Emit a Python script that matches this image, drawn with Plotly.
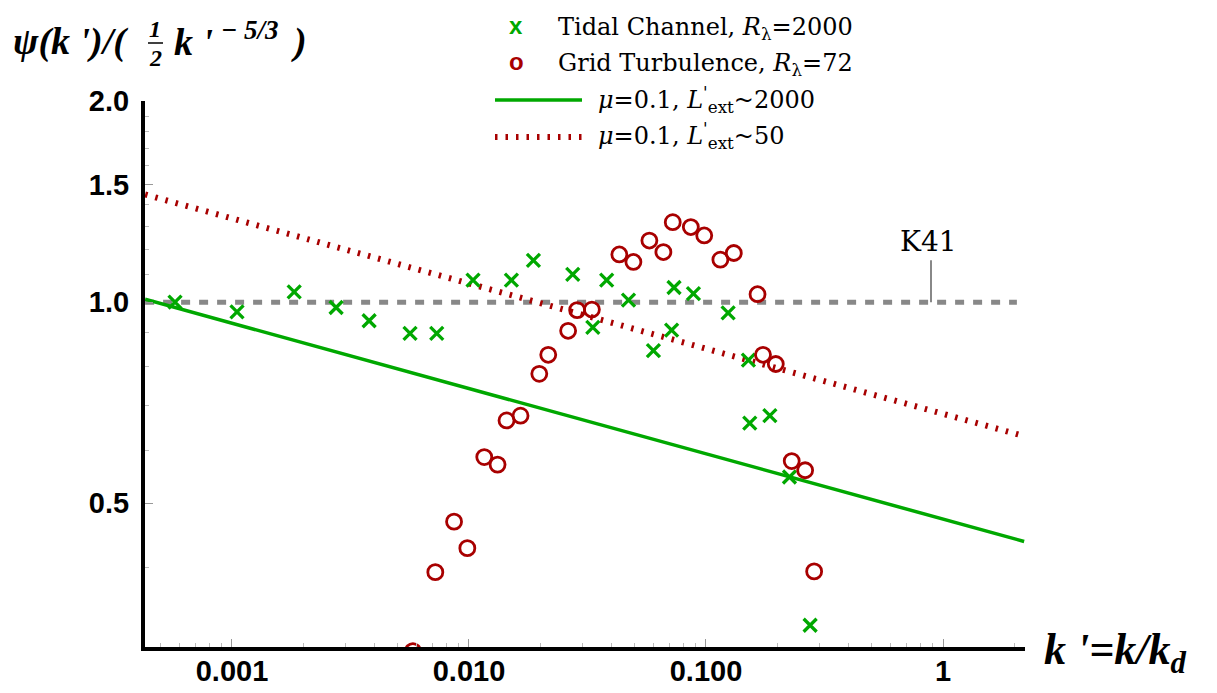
import plotly.graph_objects as go

# ---------------- data ----------------
tidal_k = [0.000575, 0.00105, 0.00183, 0.00275, 0.00379, 0.00564, 0.00731, 0.0104,
           0.0151, 0.0187, 0.0274, 0.0333, 0.0381, 0.0471, 0.0600, 0.0716, 0.0733,
           0.0885, 0.124, 0.151, 0.153, 0.186, 0.225, 0.275]
tidal_psi = [1.00, 0.967, 1.036, 0.982, 0.938, 0.898, 0.898, 1.079,
             1.079, 1.155, 1.101, 0.917, 1.079, 1.007, 0.846, 0.908, 1.052,
             1.030, 0.964, 0.819, 0.659, 0.676, 0.547, 0.328]

grid_k = [0.0058, 0.00721, 0.00865, 0.00984, 0.0116, 0.0132, 0.0144, 0.0165, 0.0198,
          0.0216, 0.0262, 0.0286, 0.0330, 0.0431, 0.0494, 0.0577, 0.0661, 0.0724,
          0.0863, 0.0983, 0.115, 0.131, 0.165, 0.174, 0.197, 0.230, 0.262, 0.286]
grid_psi = [0.300, 0.394, 0.469, 0.428, 0.586, 0.571, 0.665, 0.676, 0.781,
            0.834, 0.906, 0.973, 0.975, 1.179, 1.149, 1.237, 1.189, 1.318,
            1.296, 1.259, 1.158, 1.185, 1.028, 0.834, 0.808, 0.578, 0.560, 0.395]

model_k = [0.00043, 2.2]
model_long_psi = [1.01, 0.438]    # mu=0.1, L'ext~2000
model_short_psi = [1.45, 0.63]    # mu=0.1, L'ext~50

k41_k = [0.00043, 2.05]
k41_psi = [1.0, 1.0]
k41_pointer_k = [0.89, 0.89]
k41_pointer_psi = [1.0, 1.156]

x_tickvals = [0.001, 0.01, 0.1, 1]
x_ticktext = ["0.001", "0.010", "0.100", "1"]
y_tickvals = [0.5, 1.0, 1.5, 2.0]
y_ticktext = ["0.5", "1.0", "1.5", "2.0"]
x_minor = [m * d for d in (0.0001, 0.001, 0.01, 0.1, 1) for m in range(2, 10)]
y_minor = [0.4, 0.6, 0.7, 0.8, 0.9, 1.1, 1.2, 1.3, 1.4, 1.6, 1.7, 1.8, 1.9]

GREEN = "#00a800"
RED = "#a80000"
GRAY = "#888888"

# ---------------- figure ----------------
fig = go.Figure()

fig.add_trace(go.Scatter(x=k41_k, y=k41_psi, mode="lines",
                         line=dict(color=GRAY, width=5, dash="9px,9px"), hoverinfo="skip"))
fig.add_trace(go.Scatter(x=k41_pointer_k, y=k41_pointer_psi, mode="lines",
                         line=dict(color=GRAY, width=2), hoverinfo="skip"))
fig.add_trace(go.Scatter(x=model_k, y=model_long_psi, mode="lines",
                         line=dict(color=GREEN, width=3.5)))
fig.add_trace(go.Scatter(x=model_k, y=model_short_psi, mode="lines",
                         line=dict(color=RED, width=6, dash="2.5px,8px")))
fig.add_trace(go.Scatter(x=tidal_k, y=tidal_psi, mode="markers",
                         marker=dict(symbol="x-thin-open", size=13, color=GREEN,
                                     line=dict(color=GREEN, width=3.3))))
fig.add_trace(go.Scatter(x=grid_k, y=grid_psi, mode="markers",
                         marker=dict(symbol="circle-open", size=15, color=RED,
                                     line=dict(color=RED, width=2.8))))

L, R, T, B = 145, 192, 101, 46
W, H = 1217, 693
PW, PH = W - L - R, H - T - B


def px(xp):
    return (xp - L) / PW


def py(yp):
    return (H - B - yp) / PH


tickfont = dict(family="Liberation Sans, Arial", size=29, color="black", weight="bold")

fig.update_xaxes(type="log", range=[-3.367, 0.346], tickvals=x_tickvals, ticktext=x_ticktext,
                 ticks="inside", ticklen=8, tickwidth=1, tickcolor="#999999",
                 minor=dict(tickvals=x_minor, ticks="inside", ticklen=4, tickwidth=1,
                            tickcolor="#bbbbbb"),
                 showline=True, linewidth=4, linecolor="black", showgrid=False,
                 zeroline=False, tickfont=tickfont, ticklabelstandoff=-5, automargin=False)
fig.update_yaxes(type="log", range=[-0.5167, 0.3015], tickvals=y_tickvals, ticktext=y_ticktext,
                 ticks="inside", ticklen=8, tickwidth=1, tickcolor="#999999",
                 minor=dict(tickvals=y_minor, ticks="inside", ticklen=4, tickwidth=1,
                            tickcolor="#bbbbbb"),
                 showline=True, linewidth=4, linecolor="black", showgrid=False,
                 zeroline=False, tickfont=tickfont, ticklabelstandoff=6, automargin=False)

serif = "DejaVu Serif"
tserif = "Liberation Serif, Times New Roman"
annotations = []


def ann(text, x, y, size, family, color="black", xanchor="left", yanchor="middle"):
    annotations.append(dict(text=text, x=px(x), y=py(y), xref="paper", yref="paper",
                            xanchor=xanchor, yanchor=yanchor, showarrow=False,
                            font=dict(family=family, size=size, color=color)))


# y-axis title: psi(k')/(1/2 k'^(-5/3))
ann("<b><i>ψ(k ')/(</i></b>", 11, 42, 38, tserif)
ann("<b><i>1</i></b>", 155, 29, 24, tserif, xanchor="center")
ann("<b><i>2</i></b>", 155, 58, 24, tserif, xanchor="center")
ann("<b><i>k '</i></b>", 172, 42, 38, tserif)
ann("<b><i>− 5/3</i></b>", 219, 30, 27, tserif)
ann("<b><i>)</i></b>", 289, 42, 38, tserif)

# x-axis title
ann("<b><i>k '=k/k<sub>d</sub></i></b>", 1042, 652, 44, tserif)

# K41 label
ann("K41", 928, 241, 28, serif, xanchor="center")

# legend
ann("<b>x</b>", 516, 25, 24, "Liberation Sans, Arial", GREEN, xanchor="center")
ann("<b>o</b>", 516, 61, 24, "Liberation Sans, Arial", RED, xanchor="center")
ann("Tidal Channel, <i>R</i><sub>λ</sub>=2000", 556, 28, 24, serif)
ann("Grid Turbulence, <i>R</i><sub>λ</sub>=72", 556, 64, 24, serif)
ann("<i>μ</i>=0.1, <i>L</i><sup>'</sup><sub>ext</sub>~2000", 596, 99, 24, serif)
ann("<i>μ</i>=0.1, <i>L</i><sup>'</sup><sub>ext</sub>~50", 596, 135, 24, serif)

shapes = [
    dict(type="line", xref="paper", yref="paper", x0=px(148), x1=px(163), y0=py(43), y1=py(43),
         line=dict(color="black", width=1.5)),
    dict(type="line", xref="paper", yref="paper", x0=px(495), x1=px(582), y0=py(100), y1=py(100),
         line=dict(color=GREEN, width=3.5)),
    dict(type="line", xref="paper", yref="paper", x0=px(495), x1=px(582), y0=py(137), y1=py(137),
         line=dict(color=RED, width=6, dash="2.5px,8px")),
]

fig.update_layout(width=W, height=H, margin=dict(l=L, r=R, t=T, b=B, pad=0),
                  plot_bgcolor="white", paper_bgcolor="white", showlegend=False,
                  annotations=annotations, shapes=shapes)

fig.write_html("out.html", config={"displayModeBar": False},
               post_script="document.body.style.margin='0';")
